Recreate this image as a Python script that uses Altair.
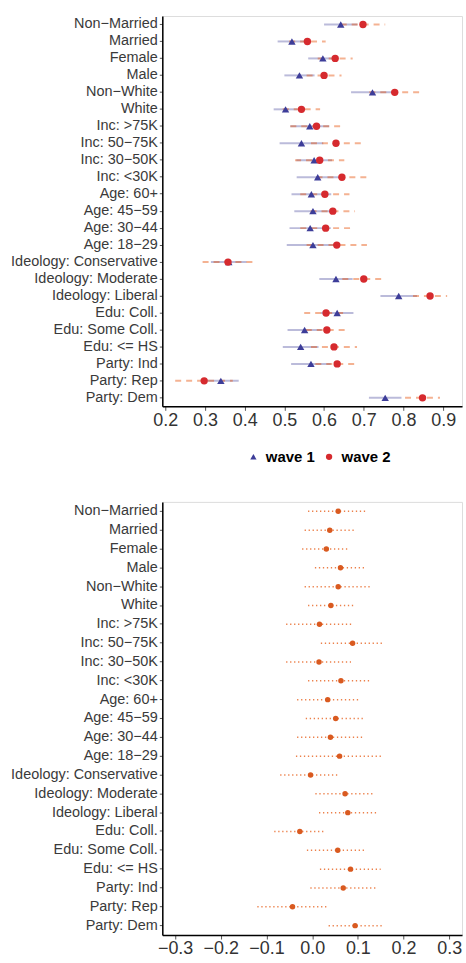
import altair as alt
import pandas as pd

cats = ["Non\u2212Married", "Married", "Female", "Male", "Non\u2212White", "White",
        "Inc: >75K", "Inc: 50\u221275K", "Inc: 30\u221250K", "Inc: <30K",
        "Age: 60+", "Age: 45\u221259", "Age: 30\u221244", "Age: 18\u221229",
        "Ideology: Conservative", "Ideology: Moderate", "Ideology: Liberal",
        "Edu: Coll.", "Edu: Some Coll.", "Edu: <= HS",
        "Party: Ind", "Party: Rep", "Party: Dem"]

w1_est = [0.642, 0.519, 0.597, 0.538, 0.722, 0.503, 0.564, 0.543, 0.575, 0.584, 0.568, 0.572,
          0.565, 0.572, 0.360, 0.630, 0.788, 0.633, 0.551, 0.541, 0.567, 0.340, 0.754]
w1_lo = [0.600, 0.483, 0.560, 0.500, 0.668, 0.473, 0.515, 0.488, 0.530, 0.531, 0.518, 0.525,
         0.513, 0.506, 0.315, 0.588, 0.742, 0.592, 0.508, 0.496, 0.517, 0.295, 0.713]
w1_hi = [0.684, 0.555, 0.634, 0.576, 0.776, 0.533, 0.613, 0.598, 0.620, 0.637, 0.618, 0.619,
         0.617, 0.638, 0.405, 0.672, 0.834, 0.674, 0.594, 0.586, 0.617, 0.385, 0.795]

w2_est = [0.698, 0.558, 0.628, 0.600, 0.778, 0.543, 0.581, 0.630, 0.589, 0.645, 0.602, 0.622,
          0.604, 0.632, 0.358, 0.700, 0.867, 0.605, 0.607, 0.625, 0.633, 0.298, 0.848]
w2_lo = [0.642, 0.512, 0.584, 0.556, 0.714, 0.496, 0.515, 0.567, 0.527, 0.581, 0.540, 0.566,
         0.540, 0.556, 0.294, 0.646, 0.824, 0.550, 0.554, 0.567, 0.578, 0.225, 0.804]
w2_hi = [0.754, 0.604, 0.672, 0.644, 0.842, 0.590, 0.647, 0.693, 0.651, 0.709, 0.664, 0.678,
         0.668, 0.708, 0.423, 0.754, 0.910, 0.660, 0.660, 0.683, 0.688, 0.370, 0.892]

d_est = [0.057, 0.0385, 0.031, 0.062, 0.057, 0.041, 0.016, 0.0885, 0.015, 0.063, 0.034, 0.0515,
         0.040, 0.060, -0.0035, 0.072, 0.078, -0.027, 0.056, 0.084, 0.068, -0.043, 0.094]
d_lo = [-0.009, -0.0165, -0.022, 0.006, -0.0165, -0.009, -0.057, 0.019, -0.057, -0.009, -0.033, -0.014,
        -0.033, -0.0355, -0.070, 0.007, 0.015, -0.083, -0.0115, 0.017, -0.004, -0.120, 0.036]
d_hi = [0.120, 0.093, 0.080, 0.117, 0.130, 0.093, 0.0885, 0.157, 0.085, 0.128, 0.103, 0.114,
        0.112, 0.156, 0.058, 0.136, 0.142, 0.025, 0.117, 0.150, 0.141, 0.034, 0.154]

waves = ["wave 1", "wave 2"]
x_ticks_top = [0.2, 0.3, 0.4, 0.5, 0.6, 0.7, 0.8, 0.9]
x_ticks_bot = [-0.3, -0.2, -0.1, 0.0, 0.1, 0.2, 0.3]

df_w1 = pd.DataFrame({"cat": cats, "est": w1_est, "lo": w1_lo, "hi": w1_hi, "wave": waves[0]})
df_w2 = pd.DataFrame({"cat": cats, "est": w2_est, "lo": w2_lo, "hi": w2_hi, "wave": waves[1]})
df_pts = pd.concat([df_w1, df_w2], ignore_index=True)
df_d = pd.DataFrame({"cat": cats, "est": d_est, "lo": d_lo, "hi": d_hi})

FONT = "Liberation Sans"

yaxis = alt.Axis(title=None, labelFontSize=14.5, labelColor="#3a3a3a", labelFont=FONT,
                 labelLimit=300, tickColor="#555555", tickSize=3, tickWidth=1,
                 domainColor="black", domainWidth=1.5, grid=False,
                 minExtent=162, maxExtent=162, labelPadding=2)

def xaxis(vals, size):
    return alt.Axis(title=None, values=vals, format=".1f", labelFontSize=size,
                    labelColor="#333333", labelFont=FONT, tickColor="#555555",
                    tickSize=4, domainColor="black", domainWidth=1.5, grid=False,
                    labelPadding=1, labelFlush=False)

ysc = alt.Y("cat:N", sort=cats, axis=yaxis)

xs_top = alt.Scale(domain=[0.1925, 0.9475], nice=False, zero=False)

r1 = alt.Chart(df_w1).mark_rule(strokeWidth=2, color="#3b3b96", opacity=0.35).encode(
    x=alt.X("lo:Q", scale=xs_top, axis=xaxis(x_ticks_top, 18)), x2="hi:Q", y=ysc)
r2 = alt.Chart(df_w2).mark_rule(strokeWidth=2, color="#e6550d", opacity=0.45,
                                strokeDash=[6, 5]).encode(
    x=alt.X("lo:Q", scale=xs_top), x2="hi:Q", y=ysc)
pts = alt.Chart(df_pts).mark_point(filled=True, size=55, opacity=1).encode(
    x=alt.X("est:Q", scale=xs_top),
    y=ysc,
    color=alt.Color("wave:N", scale=alt.Scale(domain=waves, range=["#3d3d99", "#d62a2e"]),
                    legend=alt.Legend(title=None, orient="none", direction="horizontal",
                                      legendX=84, legendY=435, labelFontSize=15,
                                      labelFontWeight="bold", labelColor="black",
                                      labelFont=FONT, symbolSize=40, columnPadding=6,
                                      labelOffset=5, symbolOpacity=1)),
    shape=alt.Shape("wave:N", scale=alt.Scale(domain=waves, range=["triangle-up", "circle"])),
)

top = alt.layer(r1, r2, pts).properties(width=301, height=392)

xs_bot = alt.Scale(domain=[-0.328, 0.328], nice=False, zero=False)
rb = alt.Chart(df_d).mark_rule(strokeWidth=1.5, color="#e6550d", opacity=0.75,
                               strokeDash=[1.3, 2.7]).encode(
    x=alt.X("lo:Q", scale=xs_bot, axis=xaxis(x_ticks_bot, 18)), x2="hi:Q", y=ysc)
pb = alt.Chart(df_d).mark_circle(size=30, color="#d95a20", opacity=1).encode(
    x=alt.X("est:Q", scale=xs_bot), y=ysc)
bottom = alt.layer(rb, pb).properties(width=301, height=435)

chart = alt.vconcat(top, bottom, spacing=71).properties(
    padding={"left": 0, "top": 13, "right": 3, "bottom": 0}
).configure_view(stroke=None).configure(font=FONT, background="white")

chart.save("out.html", embed_options={"renderer": "svg", "actions": False})
